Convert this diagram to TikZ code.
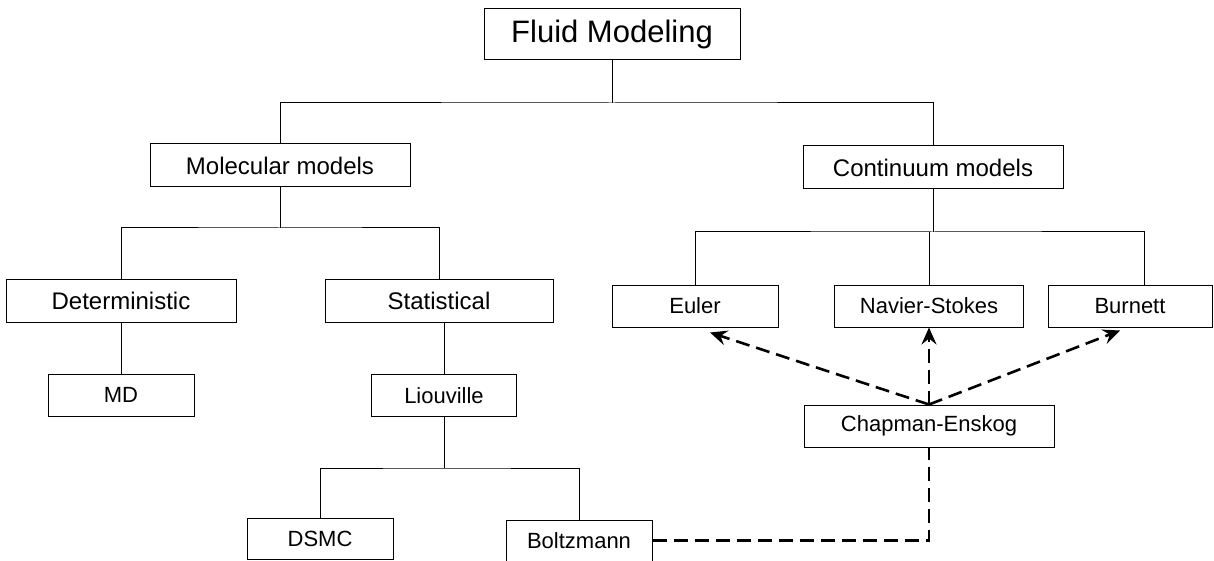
\documentclass[tikz,border=0pt]{standalone}
\usepackage{fontspec}
\setmainfont{Liberation Sans}
\usetikzlibrary{arrows.meta}
\begin{document}
\begin{tikzpicture}[x=1pt,y=-1pt,
  box/.style={draw, line width=1pt, fill=white, inner sep=0pt, minimum height=43pt, font=\fontsize{#1}{#1}\selectfont},
  box/.default=22,
  tree/.style={line width=1pt},
  dashline/.style={line width=2.6pt, dash pattern=on 14pt off 7pt},
  dasharrow/.style={dashline, -{Stealth[length=17pt,width=15pt,inset=6pt]}}]
\useasboundingbox (0,0) rectangle (1214,561);

\node[box=31, minimum width=256pt, minimum height=51pt] (fluid) at (612,34.5) {Fluid Modeling};
\node[box=24, minimum width=260pt] (mol) at (280,165.5) {Molecular models};
\node[box=24, minimum width=260pt] (cont) at (933,167.5) {Continuum models};

\node[box=24, minimum width=230pt] (det) at (121,300.5) {Deterministic};
\node[box=24, minimum width=228pt] (stat) at (439,301) {Statistical};
\node[box, minimum width=146pt, minimum height=42pt] (md) at (121,395) {MD};
\node[box, minimum width=145pt, minimum height=42pt] (liou) at (444,395.5) {Liouville};
\node[box, minimum width=146pt, minimum height=41pt] (dsmc) at (320,538.5) {DSMC};
\node[box, minimum width=146pt, minimum height=41pt] (boltz) at (579,540.5) {Boltzmann};

\node[box, minimum width=166pt, minimum height=42pt] (euler) at (695,306) {Euler};
\node[box, minimum width=189pt, minimum height=42pt] (ns) at (929,306) {Navier-Stokes};
\node[box, minimum width=164pt, minimum height=42pt] (burn) at (1130,306) {Burnett};
\node[box, minimum width=250pt, minimum height=42pt] (chap) at (929,426) {Chapman-Enskog};

% tree
\draw[tree] (fluid.south) -- (612,103) coordinate (top);
\draw[tree] (mol.north) |- (top) -| (cont.north);

\draw[tree] (mol.south) -- (280,228) coordinate (molbus);
\draw[tree] (det.north) |- (molbus) -| (stat.north);
\draw[tree] (det.south) -- (md.north);
\draw[tree] (liou.north |- stat.south) -- (liou.north);
\draw[tree] (liou.south) -- (444,468) coordinate (lioubus);
\draw[tree] (dsmc.north) |- (lioubus) -| (boltz.north);

\draw[tree] (cont.south) -- (933,232) coordinate (contbus);
\draw[tree] (euler.north) |- (contbus) -| ([xshift=14pt]burn.north);
\draw[tree] (ns.north) -- (ns.north |- contbus);

% Chapman-Enskog links
\draw[dasharrow] (chap.north) -- ([xshift=15pt,yshift=-5pt]euler.south);
\draw[dasharrow] (chap.north) -- (ns.south);
\draw[dasharrow] (chap.north) -- ([xshift=-10pt,yshift=-3pt]burn.south);
\draw[dashline] (boltz.east) -| (chap.south);
\end{tikzpicture}
\end{document}
